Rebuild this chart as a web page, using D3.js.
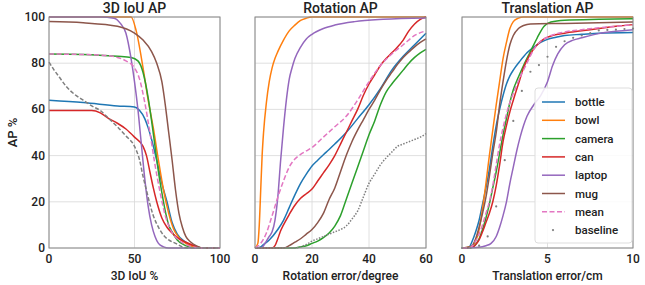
<!DOCTYPE html>
<html>
<head>
<meta charset="utf-8">
<script src="https://cdn.jsdelivr.net/npm/d3@7"></script>
<style>
  body { margin: 0; background: #fff; }
  text { font-family: Roboto, "DejaVu Sans", sans-serif; font-weight: 500; fill: #222; }
</style>
</head>
<body>
<div id="vis"></div>
<script>
const width = 645;
const height = 285;

const categories = ["bottle", "bowl", "camera", "can", "laptop", "mug", "mean", "baseline"];
const colors = ["#1f77b4", "#ff7f0e", "#2ca02c", "#d62728", "#9467bd", "#8c564b", "#e377c2", "#7f7f7f"];
const titles = ["3D IoU AP", "Rotation AP", "Translation AP"];
const xLabels = ["3D IoU %", "Rotation error/degree", "Translation error/cm"];
const xTicks = [[0, 50, 100], [0, 20, 40, 60], [0, 5, 10]];
const xDomains = [[0, 100], [0, 60], [0, 10]];
const yTicks = [0, 20, 40, 60, 80, 100];

// 3D IoU panel
const iouBottle = [[0,64],[20,63],[40,61.5],[50,61],[53,59.5],[56,56],[58,52],[60,47],[63,38],[66,28],[69,20],[72,11],[75,6],[80,2.5],[85,0.5],[90,0],[100,0]];
const iouBowl = [[0,100],[48,100],[51,94],[55,78],[58,64],[61,52],[64,38],[67,25],[70,15],[73,8],[76,4.5],[80,2],[85,0.5],[90,0],[100,0]];
const iouCamera = [[0,84],[20,83.8],[40,83],[48,82.5],[52,81],[55,76],[58,65],[60,55],[62,44],[64,33],[66,24],[68,16],[70,10],[72,7],[75,3.5],[80,1],[85,0],[100,0]];
const iouCan = [[0,59.5],[25,59.5],[30,58.5],[35,56],[40,54],[45,51.5],[50,48],[55,44],[57,40],[59,33],[61,26],[63,20],[66,13],[69,9],[72,6.5],[75,4.5],[80,2.5],[85,1],[90,0],[100,0]];
const iouLaptop = [[0,100],[30,100],[38,99.5],[42,97],[45,93],[48,82],[50,72],[52,60],[54,45],[56,30],[58,18],[60,10],[62,5],[64,2],[67,0.5],[70,0],[100,0]];
const iouMug = [[0,98],[20,97.5],[40,96],[50,93],[55,90],[60,85],[63,80],[66,72],[68,62],[70,50],[72,38],[74,25],[76,15],[78,9],[80,5],[83,2.5],[86,1],[90,0],[100,0]];
const iouMean = [[0,84],[30,83.5],[40,82.5],[45,81],[50,78],[53,73],[56,63],[59,50],[62,36],[65,24],[68,14],[71,8],[75,4],[80,1.5],[85,0.3],[90,0],[100,0]];
const iouBaseline = [[0,80.5],[3,77],[6,74],[10,70],[15,66.5],[20,64],[25,61.5],[30,59.5],[35,56],[40,52.5],[45,48.5],[50,44],[53,38],[55,31],[57,25],[59,19],[61,14],[64,9],[67,5.5],[70,3.5],[74,2],[78,0.5],[82,0],[100,0]];

// rotation panel
const rotBottle = [[0,0],[2,0.5],[3,1.5],[5,3.5],[8,8],[10,12],[12,17.5],[14,23],[16,28],[18,32],[20,35.5],[22,38],[25,41.5],[28,45],[32,50],[36,56],[40,62],[44,69],[48,77],[52,83],[56,88],[60,93]];
const rotBowl = [[0,0],[1,2],[1.5,10],[2,25],[2.5,40],[3,50],[4,63],[5,72],[6,78],[7,82],[8,85],[10,90],[12,94],[14,96.5],[16,98.5],[18,99.5],[20,100],[60,100]];
const rotCamera = [[0,0],[14,0],[16,0.5],[18,1],[20,2],[22,3],[24,4.5],[26,6.5],[28,9.5],[30,14],[32,21],[34,28],[36,35],[38,42],[40,49],[42,55],[44,62],[46,67.5],[48,71],[50,74],[52,77],[54,80],[56,82.5],[58,84.5],[60,86]];
const rotCan = [[0,0],[6,0],[7,1],[8,4],[9,7.5],[10,10],[12,14.5],[14,18.5],[16,21.5],[18,23.5],[20,25.5],[22,29],[24,32.5],[26,36],[28,40],[30,45],[32,50],[34,55],[36,60],[38,66],[40,71],[42,75],[44,79],[46,82],[48,84.5],[50,87],[52,90],[54,94],[56,97],[58,99],[60,100]];
const rotLaptop = [[0,0],[2,0],[3,1],[4,3],[5,5],[6,7],[7,12],[8,22],[9,38],[10,52],[11,64],[12,73],[13,78],[14,82],[16,87],[18,90.5],[20,92.5],[24,95],[28,96.5],[35,98],[45,99],[60,99.6]];
const rotMug = [[0,0],[10,0],[12,1],[14,2.5],[16,4],[18,6],[20,8],[22,11],[24,15],[26,21],[28,26],[30,33],[32,40],[34,46],[36,51],[38,55.5],[40,60],[42,64],[44,68.5],[46,72.5],[48,76],[50,79.5],[52,82.5],[55,86],[58,89],[60,90.5]];
const rotMean = [[0,0],[2,2],[4,6.5],[6,14],[8,22],[10,29],[12,35],[14,38.5],[16,40.5],[18,42],[20,43.5],[24,48],[28,52.5],[32,57],[36,64],[40,72],[44,79],[48,84],[52,88],[56,92],[60,94]];
const rotBaseline = [[0,0],[14,0],[16,0.5],[18,1.5],[20,3],[22,4],[24,5],[26,6],[28,7],[30,8],[32,9.5],[34,12.5],[36,16],[38,22],[40,28],[42,32],[44,36],[46,39],[48,41.5],[50,44],[52,45],[54,46],[56,47],[58,48],[60,49.5]];

// translation panel
const trBottle = [[0,0],[0.4,0.3],[0.6,3],[0.8,7],[1,12],[1.2,19],[1.4,26],[1.6,34],[1.8,44],[2,53],[2.2,60],[2.4,66],[2.6,71],[2.8,74.5],[3,77],[3.4,81],[3.8,84.5],[4.2,87],[4.6,89],[5,90.3],[5.5,91.2],[6,92],[7,92.5],[8,93],[10,93.3]];
const trBowl = [[0,0],[0.5,0.5],[0.8,3],[1,8],[1.2,17],[1.4,28],[1.6,40],[1.8,51],[2,62],[2.2,72],[2.4,82],[2.6,89],[2.8,95],[3,98],[3.3,99.5],[3.6,100],[10,100]];
const trCamera = [[0,0],[0.6,0.3],[0.8,1.5],[1,4],[1.2,8],[1.4,13],[1.6,19],[1.8,26],[2,33],[2.2,41],[2.4,49],[2.6,56],[2.8,63],[3,68.5],[3.3,74],[3.6,79],[4,85],[4.4,91],[4.8,96],[5.2,97.8],[6,98.6],[8,99],[10,99.2]];
const trCan = [[0,0],[0.6,0.3],[0.8,1.5],[1,3.5],[1.2,7],[1.4,11],[1.6,15],[1.8,20],[2,27],[2.2,36],[2.4,46],[2.6,53],[2.8,59],[3,64],[3.3,71],[3.6,78],[4,84],[4.4,88],[4.8,90.5],[5.2,91.8],[6,93],[7,94],[8,95],[9,96],[10,96.7]];
const trLaptop = [[0,0],[1,0.3],[1.4,1],[1.7,2],[2,5],[2.2,9],[2.4,14],[2.6,20],[2.8,28],[3,35],[3.2,42],[3.4,48],[3.6,53],[3.8,57],[4.2,62],[4.6,66],[5,72],[5.3,79],[5.6,84],[6,88],[6.5,90],[7,91],[8,92.8],[9,93.8],[10,94.5]];
const trMug = [[0,0],[0.5,0.5],[0.8,4],[1,9],[1.2,15],[1.4,22],[1.6,31],[1.8,41],[2,50],[2.2,62],[2.4,72],[2.6,81],[2.8,88],[3,92],[3.3,95],[3.6,96.3],[4,97],[6,97.2],[10,97.8]];
const trMean = [[0,0],[0.5,0.3],[0.8,3],[1,6],[1.2,10],[1.4,15],[1.6,20],[1.8,27],[2,36],[2.2,45],[2.4,52],[2.6,58],[2.8,63],[3,67],[3.4,74],[3.8,80],[4.2,86],[4.6,89.5],[5,91.3],[6,93.5],[7,94.5],[8,95.3],[9,96],[10,96.7]];
const trBaseline = [[0,0],[0.5,0],[1,1],[1.5,5],[2,18],[2.5,38],[3,55],[3.5,68],[4,76.3],[4.5,79.2],[5,82.8],[5.5,87.1],[6,89.5],[6.5,91],[7,92],[7.5,93],[8,94.2],[8.5,94.4],[9,94.5],[9.5,94.8],[10,95]];

const panelSeries = [
  [iouBottle, iouBowl, iouCamera, iouCan, iouLaptop, iouMug, iouMean, iouBaseline],
  [rotBottle, rotBowl, rotCamera, rotCan, rotLaptop, rotMug, rotMean, rotBaseline],
  [trBottle, trBowl, trCamera, trCan, trLaptop, trMug, trMean, trBaseline]
];

const panelLeft = [49, 255, 462];
const panelWidth = 171;
const plotTop = 17, plotBottom = 248;

const svg = d3.select("#vis")
  .append("svg")
  .attr("width", width)
  .attr("height", height);

const yScale = d3.scaleLinear().domain([0, 100]).range([plotBottom, plotTop]);

panelSeries.forEach((series, p) => {
  const x0 = panelLeft[p];
  const xScale = d3.scaleLinear().domain(xDomains[p]).range([x0, x0 + panelWidth]);
  const g = svg.append("g");

  // grid
  g.selectAll(".hgrid").data(yTicks).enter().append("line")
    .attr("x1", x0).attr("x2", x0 + panelWidth)
    .attr("y1", d => yScale(d)).attr("y2", d => yScale(d))
    .attr("stroke", "#d8d8d8").attr("stroke-width", 0.8);
  g.selectAll(".vgrid").data(xTicks[p]).enter().append("line")
    .attr("x1", d => xScale(d)).attr("x2", d => xScale(d))
    .attr("y1", plotTop).attr("y2", plotBottom)
    .attr("stroke", "#d8d8d8").attr("stroke-width", 0.8);

  // curves
  const line = d3.line()
    .x(d => xScale(d[0]))
    .y(d => yScale(d[1]))
    .curve(d3.curveMonotoneX);

  series.forEach((data, i) => {
    const name = categories[i];
    if (name === "baseline" && p === 2) {
      g.selectAll(".dot").data(data).enter().append("circle")
        .attr("cx", d => xScale(d[0]))
        .attr("cy", d => yScale(d[1]))
        .attr("r", 1.1)
        .attr("fill", colors[i]);
      return;
    }
    const path = g.append("path")
      .datum(data)
      .attr("d", line)
      .attr("fill", "none")
      .attr("stroke", colors[i])
      .attr("stroke-width", 1.5);
    if (name === "mean") path.attr("stroke-dasharray", "5,2.5");
    if (name === "baseline") path.attr("stroke-dasharray", p === 0 ? "4,2" : "1.5,1.5");
  });

  // frame
  g.append("rect")
    .attr("x", x0).attr("y", plotTop)
    .attr("width", panelWidth).attr("height", plotBottom - plotTop)
    .attr("fill", "none").attr("stroke", "#888").attr("stroke-width", 1);

  // x tick labels
  g.selectAll(".xt").data(xTicks[p]).enter().append("text")
    .attr("x", d => xScale(d)).attr("y", plotBottom + 15)
    .attr("text-anchor", "middle").style("font-size", "12px")
    .text(d => d);

  if (p === 0) {
    g.selectAll(".yt").data(yTicks).enter().append("text")
      .attr("x", x0 - 4).attr("y", d => yScale(d) + 4)
      .attr("text-anchor", "end").style("font-size", "12px")
      .text(d => d);
    svg.append("text")
      .attr("transform", "translate(17," + ((plotTop + plotBottom) / 2) + ") rotate(-90)")
      .attr("text-anchor", "middle").style("font-size", "13px")
      .text("AP %");
  }

  g.append("text")
    .attr("x", x0 + panelWidth / 2).attr("y", 13)
    .attr("text-anchor", "middle").style("font-size", "14px")
    .text(titles[p]);

  g.append("text")
    .attr("x", x0 + panelWidth / 2).attr("y", 280)
    .attr("text-anchor", "middle").style("font-size", "12px")
    .text(xLabels[p]);

  // legend in the last panel
  if (p === 2) {
    const lg = svg.append("g").attr("transform", "translate(535,88)");
    lg.append("rect")
      .attr("width", 97).attr("height", 155).attr("rx", 3)
      .attr("fill", "#fff").attr("fill-opacity", 0.85)
      .attr("stroke", "#ddd");
    categories.forEach((c, i) => {
      const y = 14 + i * 18.3;
      if (c === "baseline") {
        lg.append("circle").attr("cx", 18).attr("cy", y).attr("r", 1.1).attr("fill", colors[i]);
      } else {
        const l = lg.append("line")
          .attr("x1", 7).attr("x2", 30).attr("y1", y).attr("y2", y)
          .attr("stroke", colors[i]).attr("stroke-width", 1.5);
        if (c === "mean") l.attr("stroke-dasharray", "5,2.5");
      }
      lg.append("text")
        .attr("x", 40).attr("y", y + 4)
        .style("font-size", "11.5px")
        .text(c);
    });
  }
});
</script>
</body>
</html>
